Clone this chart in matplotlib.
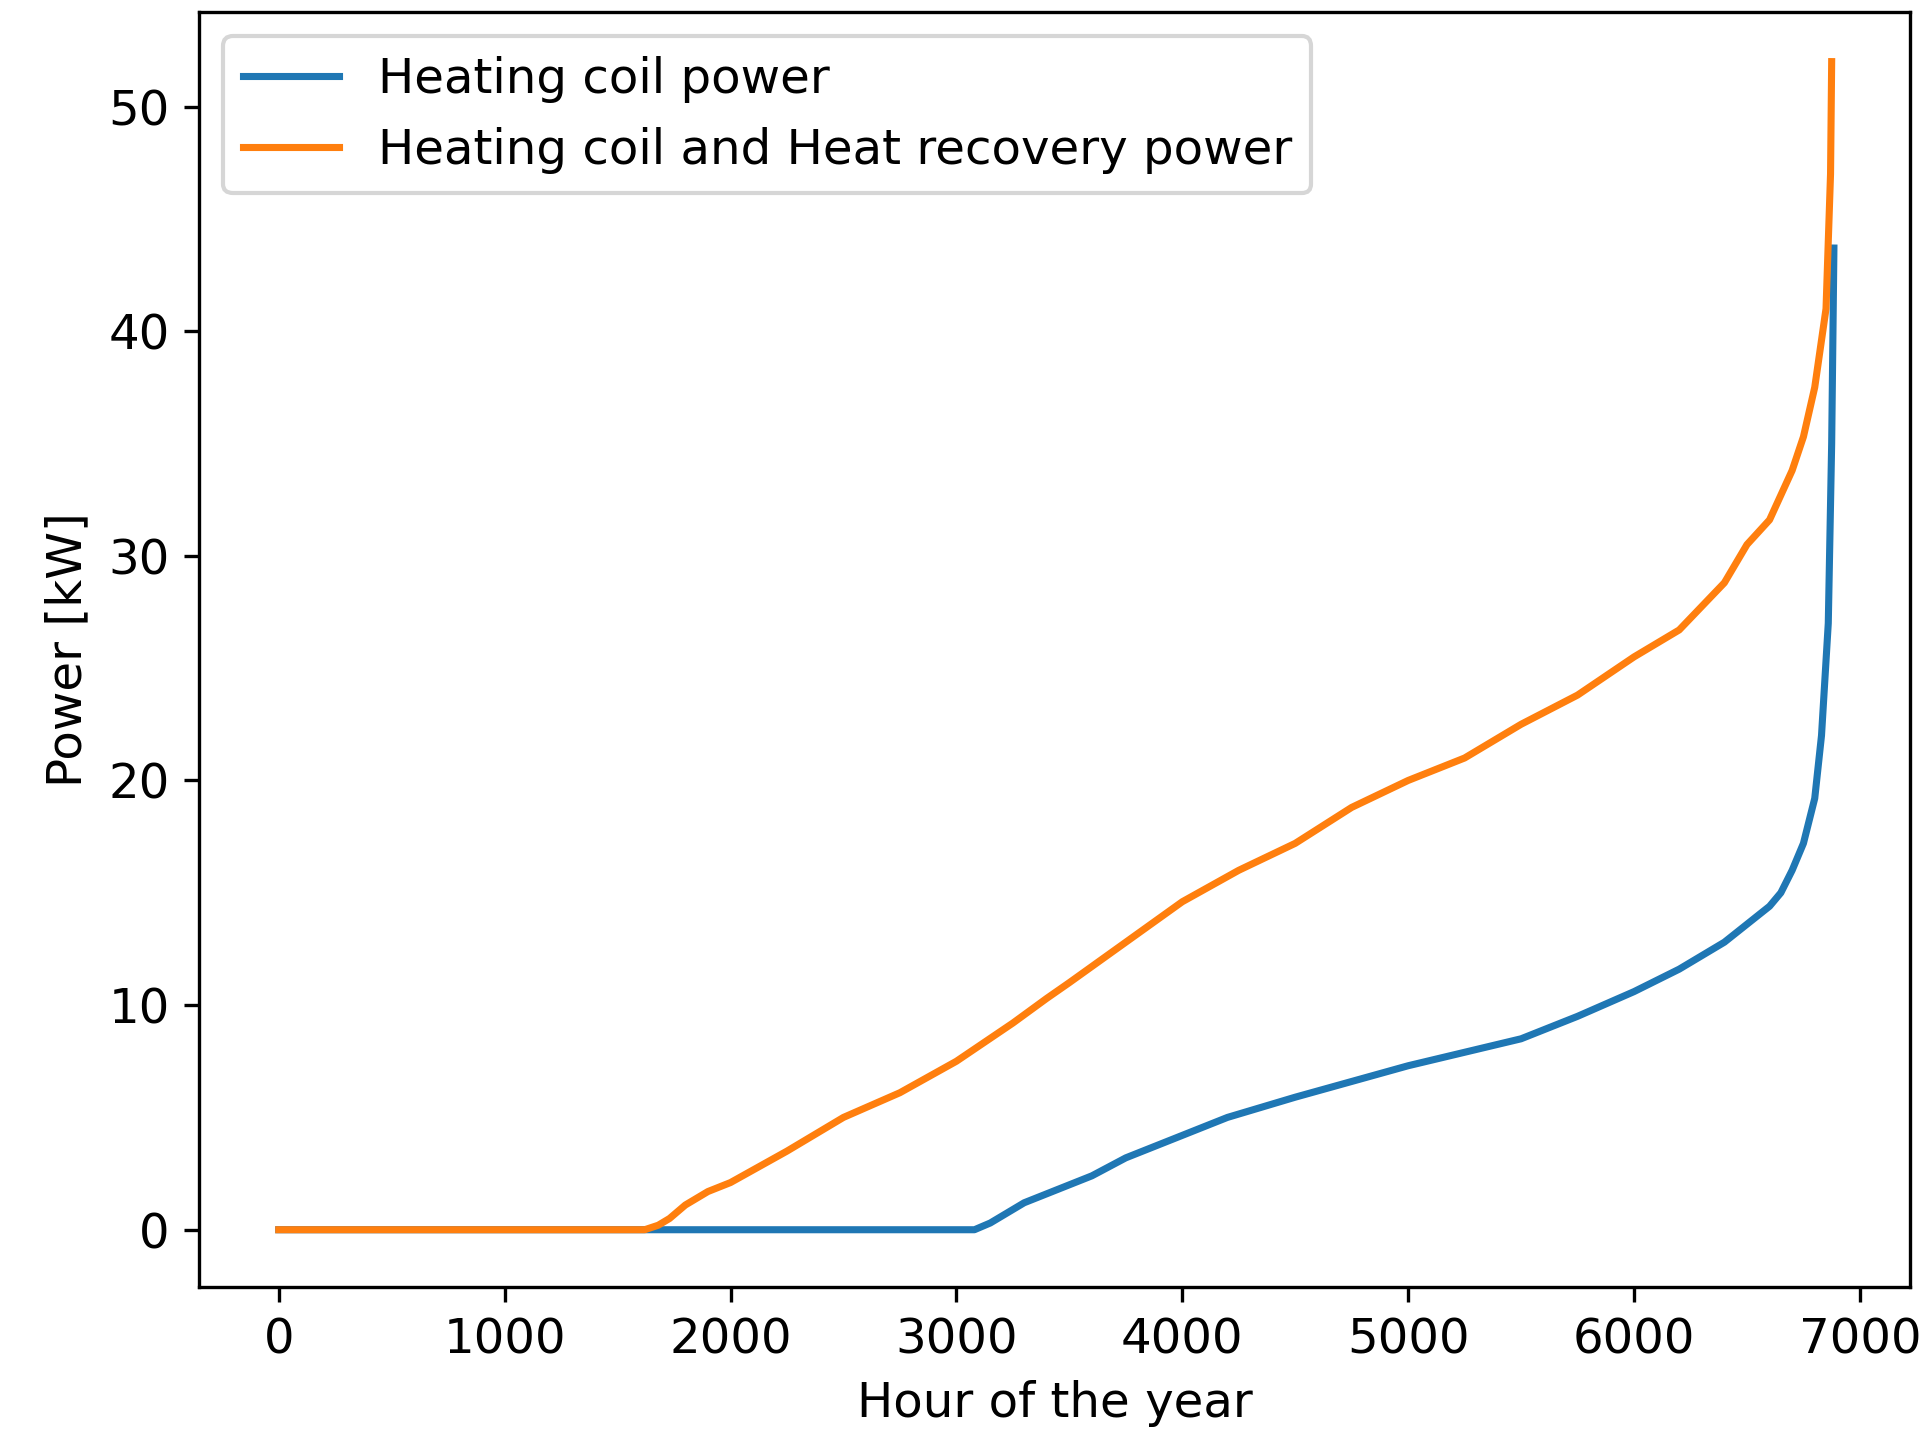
import matplotlib
matplotlib.use("Agg")
import matplotlib.pyplot as plt

# Load-duration style curves
hc_hours = [0, 3080, 3150, 3200, 3300, 3400, 3500, 3600, 3750, 3900, 4000, 4200,
            4500, 4750, 5000, 5250, 5500, 5750, 6000, 6200, 6400, 6500, 6600,
            6650, 6700, 6750, 6800, 6830, 6860, 6875, 6885]
hc_power = [0, 0, 0.3, 0.6, 1.2, 1.6, 2.0, 2.4, 3.2, 3.8, 4.2, 5.0,
            5.9, 6.6, 7.3, 7.9, 8.5, 9.5, 10.6, 11.6, 12.8, 13.6, 14.4,
            15.0, 16.0, 17.2, 19.2, 22.0, 27.0, 35.0, 43.7]

hr_hours = [0, 1620, 1680, 1730, 1800, 1900, 2000, 2250, 2500, 2750, 3000, 3250,
            3400, 3500, 3750, 4000, 4250, 4500, 4750, 5000, 5250, 5500, 5750, 6000,
            6200, 6400, 6500, 6600, 6700, 6750, 6800, 6850, 6870, 6875]
hr_power = [0, 0, 0.2, 0.5, 1.1, 1.7, 2.1, 3.5, 5.0, 6.1, 7.5, 9.2,
            10.3, 11.0, 12.8, 14.6, 16.0, 17.2, 18.8, 20.0, 21.0, 22.5, 23.8, 25.5,
            26.7, 28.8, 30.5, 31.6, 33.8, 35.3, 37.5, 41.0, 47.0, 52.0]

plt.rcParams["font.size"] = 11.6
fig = plt.figure(figsize=(1921 / 300, 1434 / 300), dpi=300)
ax = fig.add_axes([0.1036, 0.1025, 0.8907, 0.889])
ax.plot(hc_hours, hc_power, lw=1.7, label="Heating coil power")
ax.plot(hr_hours, hr_power, lw=1.7, label="Heating coil and Heat recovery power")
ax.set_xlim(-353, 7222)
ax.set_ylim(-2.55, 54.2)
ax.set_xlabel("Hour of the year")
ax.set_ylabel("Power [kW]")
ax.legend(loc="upper left")
fig.savefig("out.png", dpi=300)
